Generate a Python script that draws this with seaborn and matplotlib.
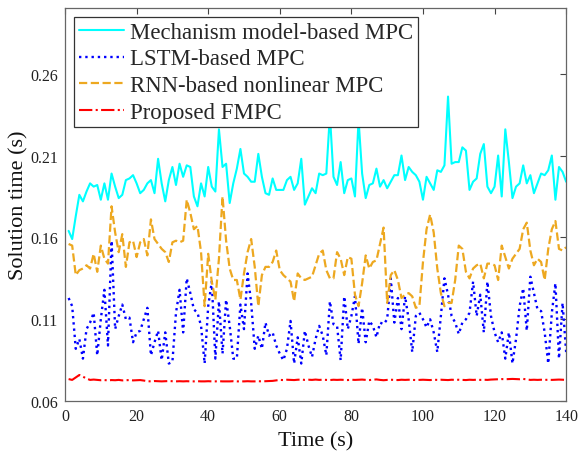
import numpy as np
import pandas as pd
import matplotlib
matplotlib.use("Agg")
import matplotlib.pyplot as plt
import seaborn as sns

time = list(range(1, 141))

mechanism = [
    0.164, 0.159, 0.173, 0.186, 0.182, 0.188, 0.193, 0.191, 0.192, 0.183,
    0.193, 0.183, 0.199, 0.191, 0.184, 0.186, 0.195, 0.196, 0.198, 0.193,
    0.187, 0.189, 0.193, 0.195, 0.187, 0.208, 0.193, 0.182, 0.195, 0.203,
    0.192, 0.205, 0.197, 0.204, 0.203, 0.185, 0.179, 0.193, 0.185, 0.203,
    0.191, 0.188, 0.226, 0.203, 0.205, 0.181, 0.193, 0.202, 0.214, 0.199,
    0.197, 0.194, 0.194, 0.211, 0.197, 0.187, 0.186, 0.196, 0.189, 0.189,
    0.189, 0.195, 0.197, 0.189, 0.193, 0.208, 0.180, 0.185, 0.190, 0.187,
    0.199, 0.198, 0.199, 0.235, 0.197, 0.192, 0.206, 0.187, 0.195, 0.196,
    0.185, 0.232, 0.199, 0.184, 0.192, 0.193, 0.202, 0.191, 0.195, 0.190,
    0.194, 0.198, 0.198, 0.210, 0.195, 0.203, 0.200, 0.198, 0.194, 0.183,
    0.197, 0.193, 0.189, 0.201, 0.200, 0.204, 0.246, 0.205, 0.206, 0.206,
    0.215, 0.213, 0.189, 0.194, 0.196, 0.211, 0.217, 0.191, 0.187, 0.191,
    0.210, 0.185, 0.226, 0.206, 0.184, 0.191, 0.193, 0.204, 0.193, 0.198,
    0.187, 0.193, 0.199, 0.198, 0.201, 0.210, 0.183, 0.203, 0.200, 0.194,
]

lstm = [
    0.123, 0.118, 0.092, 0.098, 0.086, 0.104, 0.108, 0.114, 0.088, 0.110,
    0.128, 0.094, 0.158, 0.104, 0.112, 0.119, 0.110, 0.111, 0.096, 0.102,
    0.103, 0.110, 0.117, 0.088, 0.096, 0.103, 0.085, 0.102, 0.083, 0.084,
    0.114, 0.128, 0.102, 0.135, 0.126, 0.116, 0.114, 0.106, 0.083, 0.118,
    0.133, 0.086, 0.121, 0.089, 0.122, 0.106, 0.086, 0.086, 0.119, 0.104,
    0.138, 0.120, 0.092, 0.100, 0.092, 0.108, 0.100, 0.102, 0.094, 0.089,
    0.085, 0.092, 0.109, 0.083, 0.099, 0.083, 0.103, 0.094, 0.087, 0.098,
    0.106, 0.100, 0.088, 0.121, 0.107, 0.106, 0.085, 0.124, 0.104, 0.112,
    0.124, 0.095, 0.117, 0.096, 0.109, 0.106, 0.099, 0.108, 0.107, 0.110,
    0.135, 0.108, 0.123, 0.104, 0.124, 0.110, 0.090, 0.112, 0.114, 0.110,
    0.105, 0.110, 0.102, 0.090, 0.112, 0.135, 0.125, 0.112, 0.108, 0.101,
    0.108, 0.110, 0.114, 0.133, 0.112, 0.125, 0.102, 0.133, 0.112, 0.102,
    0.096, 0.102, 0.086, 0.102, 0.083, 0.098, 0.118, 0.129, 0.103, 0.136,
    0.126, 0.116, 0.115, 0.102, 0.083, 0.114, 0.132, 0.086, 0.120, 0.090,
]

rnn = [
    0.156, 0.155, 0.137, 0.140, 0.141, 0.143, 0.141, 0.150, 0.139, 0.155,
    0.147, 0.144, 0.179, 0.163, 0.151, 0.162, 0.142, 0.157, 0.158, 0.148,
    0.157, 0.159, 0.149, 0.171, 0.159, 0.156, 0.153, 0.151, 0.145, 0.157,
    0.158, 0.157, 0.158, 0.183, 0.175, 0.165, 0.167, 0.151, 0.118, 0.150,
    0.133, 0.122, 0.147, 0.185, 0.158, 0.141, 0.134, 0.134, 0.122, 0.138,
    0.151, 0.159, 0.142, 0.118, 0.137, 0.142, 0.142, 0.145, 0.152, 0.140,
    0.137, 0.135, 0.133, 0.121, 0.138, 0.135, 0.134, 0.135, 0.136, 0.143,
    0.150, 0.152, 0.140, 0.135, 0.135, 0.151, 0.147, 0.137, 0.148, 0.147,
    0.125, 0.118, 0.132, 0.149, 0.141, 0.145, 0.146, 0.156, 0.166, 0.120,
    0.137, 0.140, 0.134, 0.123, 0.125, 0.126, 0.124, 0.117, 0.118, 0.145,
    0.165, 0.174, 0.163, 0.141, 0.126, 0.118, 0.120, 0.120, 0.134, 0.155,
    0.153, 0.139, 0.135, 0.141, 0.143, 0.144, 0.135, 0.144, 0.144, 0.143,
    0.134, 0.155, 0.148, 0.141, 0.147, 0.150, 0.153, 0.165, 0.169, 0.152,
    0.143, 0.147, 0.145, 0.134, 0.153, 0.165, 0.170, 0.153, 0.152, 0.154,
]

fmpc = [
    0.0735, 0.0730, 0.0745, 0.0760, 0.0750, 0.0738, 0.0730, 0.0732, 0.0730, 0.0728,
    0.0729, 0.0727, 0.0729, 0.0728, 0.0730, 0.0727, 0.0728, 0.0729, 0.0727, 0.0728,
    0.0729, 0.0726, 0.0722, 0.0721, 0.0723, 0.0722, 0.0721, 0.0722, 0.0723, 0.0722,
    0.0721, 0.0722, 0.0721, 0.0722, 0.0721, 0.0721, 0.0722, 0.0721, 0.0721, 0.0722,
    0.0721, 0.0721, 0.0722, 0.0721, 0.0721, 0.0721, 0.0722, 0.0721, 0.0721, 0.0721,
    0.0722, 0.0721, 0.0721, 0.0722, 0.0721, 0.0722, 0.0723, 0.0724, 0.0727, 0.0730,
    0.0729, 0.0731, 0.0730, 0.0729, 0.0731, 0.0732, 0.0730, 0.0731, 0.0730, 0.0732,
    0.0730, 0.0731, 0.0730, 0.0729, 0.0731, 0.0730, 0.0731, 0.0730, 0.0729, 0.0731,
    0.0730, 0.0731, 0.0732, 0.0730, 0.0729, 0.0731, 0.0733, 0.0730, 0.0728, 0.0730,
    0.0731, 0.0730, 0.0729, 0.0731, 0.0730, 0.0731, 0.0730, 0.0729, 0.0730, 0.0731,
    0.0730, 0.0729, 0.0731, 0.0730, 0.0731, 0.0730, 0.0729, 0.0731, 0.0730, 0.0731,
    0.0730, 0.0729, 0.0731, 0.0730, 0.0731, 0.0730, 0.0731, 0.0730, 0.0732, 0.0733,
    0.0734, 0.0735, 0.0734, 0.0735, 0.0736, 0.0735, 0.0734, 0.0736, 0.0733, 0.0730,
    0.0731, 0.0730, 0.0731, 0.0730, 0.0731, 0.0730, 0.0731, 0.0732, 0.0731, 0.0730,
]

labels = ["Mechanism model-based MPC", "LSTM-based MPC",
          "RNN-based nonlinear MPC", "Proposed FMPC"]
colors = ["#00FFFF", "#0000FF", "#EDA820", "#FF0000"]
styles = ["-", ":", "--", "-."]
x_ticks = [0, 20, 40, 60, 80, 100, 120, 140]
y_ticks = [0.06, 0.11, 0.16, 0.21, 0.26]

df = pd.DataFrame({"Time": time, labels[0]: mechanism, labels[1]: lstm,
                   labels[2]: rnn, labels[3]: fmpc})

sns.set_style("white")
plt.rcParams["font.family"] = ["Liberation Serif", "DejaVu Serif"]

fig = plt.figure(figsize=(5.78, 4.56), dpi=100)
ax = fig.add_axes([0.1125, 0.118, 0.867, 0.862])

widths = [1.5, 1.7, 1.6, 1.5]
for lab, col, ls, lw in zip(labels, colors, styles, widths):
    sns.lineplot(data=df, x="Time", y=lab, ax=ax, color=col, linestyle=ls,
                 linewidth=lw, label=lab)

ax.set_xlim(0, 140)
ax.set_ylim(0.06, 0.30)
ax.set_xticks(x_ticks)
ax.set_yticks(y_ticks)
ax.set_yticklabels([f"{v:.2f}" for v in y_ticks])
ax.tick_params(direction="in", length=4, width=0.8, top=True, right=True,
               labelsize=11.5, colors="#444444", labelcolor="#222222", pad=5)
for s in ax.spines.values():
    s.set_color("#666666")
    s.set_linewidth(0.9)

ax.set_xlabel("Time (s)", fontsize=16, color="#111111", labelpad=5)
ax.set_ylabel("Solution time (s)", fontsize=16, color="#111111", labelpad=1)

leg = ax.legend(loc="upper left", fontsize=16.4, frameon=True, fancybox=False,
                labelspacing=0.25, handlelength=2.0, handletextpad=0.25,
                borderpad=0.2, borderaxespad=0.4, framealpha=1)
leg.get_frame().set_edgecolor("#333333")
leg.get_frame().set_linewidth(0.9)

fig.savefig("out.png", dpi=100)
